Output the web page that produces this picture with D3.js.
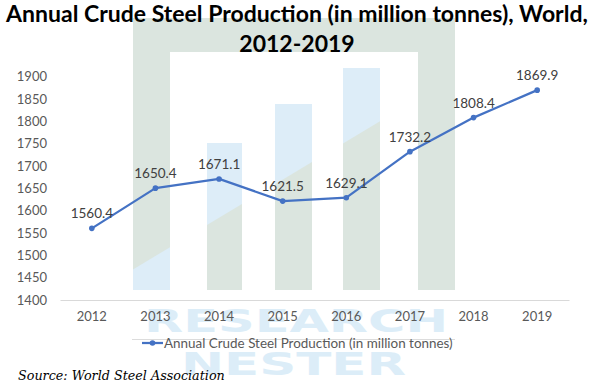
<!DOCTYPE html>
<html lang="en">
<head>
<meta charset="UTF-8">
<title>Annual Crude Steel Production</title>
<script src="https://d3js.org/d3.v7.min.js"></script>
<style>
    body { margin: 0; background: #fff; }
    svg { display: block; }
</style>
</head>
<body>
<svg id="chart" width="600" height="388"></svg>
<script>
    // chart data
    const years = ["2012", "2013", "2014", "2015", "2016", "2017", "2018", "2019"];
    const production = [1560.4, 1650.4, 1671.1, 1621.5, 1629.1, 1732.2, 1808.4, 1869.9];
    const yTicks = [1400, 1450, 1500, 1550, 1600, 1650, 1700, 1750, 1800, 1850, 1900];
    const titleLines = ["Annual Crude Steel Production (in million tonnes), World,", "2012-2019"];
    const seriesName = "Annual Crude Steel Production (in million tonnes)";
    const sourceText = "Source: World Steel Association";

    const svg = d3.select("#chart");
    const sans = "Lato, 'Open Sans', sans-serif";

    // shrink/grow a text's font size so it spans a given width
    function fitWidth(sel, w) {
        const len = sel.node().getComputedTextLength();
        sel.attr("font-size", parseFloat(sel.attr("font-size")) * w / len);
    }

    // --- watermark (Research Nester logo) ---
    const green = "#dbe5df", blue = "#ddedf8";
    const wm = svg.append("g");
    const diag = x => 270 - 0.6 * (x - 132);
    wm.append("path").attr("fill", green)
      .attr("d", "M133,18H455V290H418V52H170V290H133Z");
    // left pillar: blue under the diagonal
    wm.append("path").attr("fill", blue)
      .attr("d", `M133,${diag(133)}L170,${diag(170)}V290H133Z`);
    // three inner bars: blue above diagonal, green under it
    [[207, 242, 143], [275, 312, 104], [343, 380, 68]].forEach(([x0, x1, top]) => {
        wm.append("rect").attr("x", x0).attr("y", top).attr("width", x1 - x0).attr("height", 290 - top)
          .attr("fill", blue);
        wm.append("path").attr("fill", green)
          .attr("d", `M${x0},${diag(x0)}L${x1},${diag(x1)}V290H${x0}Z`);
    });
    wm.append("line").attr("x1", 132).attr("x2", 455).attr("y1", 339.5).attr("y2", 339.5)
      .attr("stroke", "#dcdcdc").attr("stroke-width", 1);
    [["RESEARCH", 144, 332, 304], ["NESTER", 181, 375, 225]].forEach(([t, x, y, w]) => {
        wm.append("text").attr("x", x).attr("y", y).text(t)
          .attr("font-family", "'DejaVu Sans', sans-serif").attr("font-weight", "bold")
          .attr("font-size", 32).attr("fill", "#dcedf8")
          .attr("textLength", w).attr("lengthAdjust", "spacingAndGlyphs");
    });

    // --- title ---
    const t1 = svg.append("text").attr("x", 297).attr("y", 22).attr("text-anchor", "middle")
        .attr("font-family", sans).attr("font-weight", "bold").attr("font-size", 20)
        .attr("fill", "#000").text(titleLines[0]);
    fitWidth(t1, 582);
    svg.append("text").attr("x", 297).attr("y", 52).attr("text-anchor", "middle")
        .attr("font-family", sans).attr("font-weight", "bold").attr("font-size", t1.attr("font-size"))
        .attr("fill", "#000").text(titleLines[1]);

    // --- scales ---
    const x = d3.scaleBand().domain(years).range([60, 569]).padding(0);
    const y = d3.scaleLinear().domain([1400, 1900]).range([300, 76.7]);
    const cx = d => x(d) + x.bandwidth() / 2;

    // y axis labels
    const yAxis = svg.append("g").attr("transform", "translate(47,0)")
        .call(d3.axisLeft(y).tickValues(yTicks).tickSize(0).tickPadding(0).tickFormat(d3.format("d")));
    yAxis.select(".domain").remove();
    yAxis.selectAll("text").attr("font-family", sans).attr("font-size", 13).attr("fill", "#595959");

    // x axis
    const xAxis = svg.append("g").attr("transform", "translate(0,300)")
        .call(d3.axisBottom(x).tickSize(0).tickPadding(12));
    xAxis.select(".domain").attr("stroke", "#d9d9d9");
    xAxis.selectAll("text").attr("font-family", sans).attr("font-size", 13).attr("fill", "#595959");

    // --- line series ---
    const pts = years.map((yr, i) => ({ yr, v: production[i] }));
    const line = d3.line().x(d => cx(d.yr)).y(d => y(d.v));
    svg.append("path").datum(pts).attr("d", line)
       .attr("fill", "none").attr("stroke", "#4472c4").attr("stroke-width", 2.25)
       .attr("stroke-linejoin", "round");
    svg.selectAll(".pt").data(pts).enter().append("circle")
       .attr("cx", d => cx(d.yr)).attr("cy", d => y(d.v)).attr("r", 2.8).attr("fill", "#4472c4");
    svg.selectAll(".lbl").data(pts).enter().append("text")
       .attr("x", d => cx(d.yr)).attr("y", d => y(d.v) - 10).attr("text-anchor", "middle")
       .attr("font-family", sans).attr("font-size", 13.5).attr("fill", "#404040")
       .text(d => d.v.toFixed(1));

    // --- legend ---
    const lg = svg.append("g").attr("transform", "translate(142,343)");
    lg.append("line").attr("x1", 0).attr("x2", 21).attr("stroke", "#4472c4").attr("stroke-width", 2.25);
    lg.append("circle").attr("cx", 10.5).attr("r", 2.8).attr("fill", "#4472c4");
    const lt = lg.append("text").attr("x", 22).attr("dy", "0.35em")
       .attr("font-family", sans).attr("font-size", 12.5).attr("fill", "#595959").text(seriesName);
    fitWidth(lt, 289);

    // --- source ---
    const st = svg.append("text").attr("x", 18).attr("y", 380)
       .attr("font-family", "'DejaVu Serif', 'Liberation Serif', serif").attr("font-style", "italic")
       .attr("font-size", 14).attr("fill", "#000").text(sourceText);
    fitWidth(st, 207);
</script>
</body>
</html>
